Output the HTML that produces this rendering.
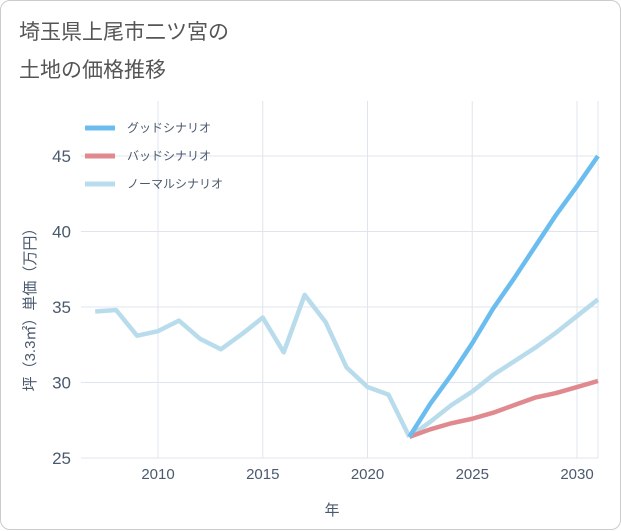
<!DOCTYPE html>
<html><head><meta charset="utf-8"><style>
body{margin:0;background:#fff;}
#card{position:absolute;left:0;top:0;width:619px;height:528px;border:1px solid #ccc;border-radius:10px;background:#fff;}
.t{font-family:"Liberation Sans","Noto Sans CJK JP",sans-serif;}
</style></head><body>
<div id="card">
<svg id="svg" width="621" height="530" style="position:absolute;left:0;top:0">
<text class="t" x="18" y="38" font-size="21" fill="#555">埼玉県上尾市二ツ宮の</text>
<text class="t" x="18" y="76" font-size="21" fill="#555">土地の価格推移</text>
<g id="grid"></g><g id="series"></g><g id="axes"></g>
<text class="t" x="331" y="514" font-size="15" fill="#4a5a6e" text-anchor="middle">年</text>
<text class="t" transform="translate(34,305) rotate(-90)" font-size="15" fill="#4a5a6e" text-anchor="middle">坪（3.3㎡）単価（万円）</text>
<g>
<line x1="84" y1="127" x2="114" y2="127" stroke="#6bbcef" stroke-width="5"/>
<text class="t" x="126" y="131" font-size="12" fill="#4a5a6e">グッドシナリオ</text>
<line x1="84" y1="155" x2="114" y2="155" stroke="#e08a8f" stroke-width="5"/>
<text class="t" x="126" y="159" font-size="12" fill="#4a5a6e">バッドシナリオ</text>
<line x1="84" y1="183" x2="114" y2="183" stroke="#b9dcec" stroke-width="5"/>
<text class="t" x="126" y="187" font-size="12" fill="#4a5a6e">ノーマルシナリオ</text>
</g>
</svg></div>
<script>
const histYears=[2007,2008,2009,2010,2011,2012,2013,2014,2015,2016,2017,2018,2019,2020,2021,2022];
const histValues=[34.7,34.8,33.1,33.4,34.1,32.9,32.2,33.2,34.3,32.0,35.8,34.0,31.0,29.7,29.2,26.4];
const futYears=[2022,2023,2024,2025,2026,2027,2028,2029,2030,2031];
const goodValues=[26.4,28.6,30.5,32.6,34.9,36.9,39.0,41.1,43.0,45.0];
const normalValues=[26.4,27.4,28.5,29.4,30.5,31.4,32.3,33.3,34.4,35.5];
const badValues=[26.4,26.9,27.3,27.6,28.0,28.5,29.0,29.3,29.7,30.1];
const xTicks=[2010,2015,2020,2025,2030];
const yTicks=[25,30,35,40,45];
const NS='http://www.w3.org/2000/svg';
const X0=80,X1=597,Y0=100,Y1=457;
const xs=y=>157+(y-2010)*(576-157)/20;
const ys=v=>457-(v-25)*(457-155)/20;
function mk(t,a,p){const e=document.createElementNS(NS,t);for(const k in a)e.setAttribute(k,a[k]);p.appendChild(e);return e;}
const grid=document.getElementById('grid'),axes=document.getElementById('axes'),ser=document.getElementById('series');
xTicks.forEach(t=>{
 const l=mk('line',{x1:xs(t),x2:xs(t),y1:Y0,y2:Y1,stroke:'#dfe5ec'},grid);
 
 
 const tx=mk('text',{x:xs(t),y:478,'text-anchor':'middle','font-size':15,fill:'#4a5a6e',class:'t'},axes);tx.textContent=t;
 
 
});
yTicks.forEach(t=>{
 const l=mk('line',{x1:X0,x2:X1,y1:ys(t),y2:ys(t),stroke:'#dfe5ec'},grid);
 
 
 const tx=mk('text',{x:70,y:ys(t)+6,'text-anchor':'end','font-size':17,fill:'#4a5a6e',class:'t'},axes);tx.textContent=t;
 
 
});
const ax=mk('line',{x1:X1,x2:X1,y1:Y0,y2:Y1,stroke:'#dfe5ec'},grid);


function line(yrs,vals,col,name){
 const p=mk('polyline',{points:yrs.map((y,i)=>xs(y)+','+ys(vals[i])).join(' '),fill:'none',stroke:col,'stroke-width':4.5,'stroke-linejoin':'round'},ser);
 
 
}
line(histYears,histValues,'#b9dcec','history-line');
line(futYears,normalValues,'#b9dcec','normal-scenario-line');
line(futYears,badValues,'#e08a8f','bad-scenario-line');
line(futYears,goodValues,'#6bbcef','good-scenario-line');
</script>
</body></html>
